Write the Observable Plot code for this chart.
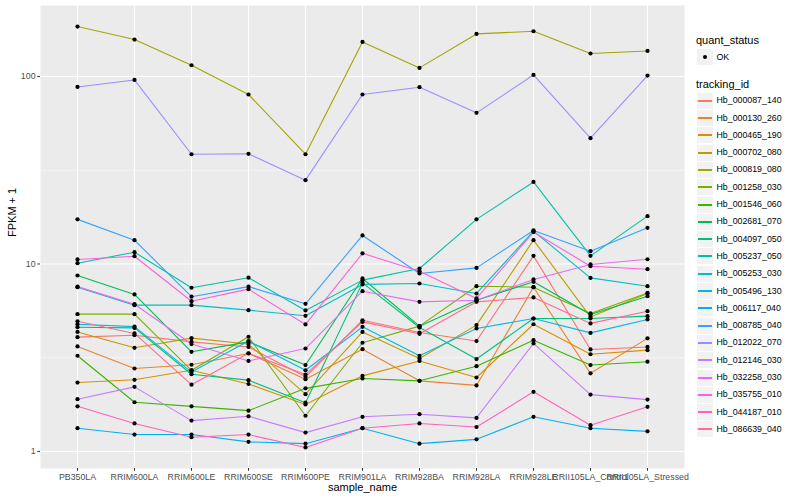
<!DOCTYPE html>
<html><head><meta charset="utf-8">
<script src="https://cdn.jsdelivr.net/npm/d3@7"></script>
<script src="https://cdn.jsdelivr.net/npm/@observablehq/plot@0.6"></script>
<style>
body{margin:0;background:#fff;font-family:"Liberation Sans",Arial,sans-serif;}
#wrap{display:flex;width:800px;height:500px;}
#chart{width:692px;height:500px;}
#legend{position:relative;width:108px;height:500px;}
.lt{position:absolute;font-size:11px;color:#000;white-space:nowrap;line-height:1;}
.li{position:absolute;font-size:8.8px;color:#000;white-space:nowrap;line-height:1;}
.key{position:absolute;width:16px;height:16px;background:#F2F2F2;border:1px solid #fff;}
.seg{position:absolute;left:1px;width:14px;top:7px;height:2px;}
</style></head><body><div id="wrap"><div id="chart"></div><div id="legend"></div></div>
<script>
const samples = ["PB350LA","RRIM600LA","RRIM600LE","RRIM600SE","RRIM600PE","RRIM901LA","RRIM928BA","RRIM928LA","RRIM928LE","RRII105LA_Control","RRII105LA_Stressed"];
const trackingIds = ["Hb_000087_140","Hb_000130_260","Hb_000465_190","Hb_000702_080","Hb_000819_080","Hb_001258_030","Hb_001546_060","Hb_002681_070","Hb_004097_050","Hb_005237_050","Hb_005253_030","Hb_005496_130","Hb_006117_040","Hb_008785_040","Hb_012022_070","Hb_012146_030","Hb_032258_030","Hb_035755_010","Hb_044187_010","Hb_086639_040"];
const colors = ["#F8766D","#EA8331","#D89000","#C09B00","#A3A500","#7CAE00","#39B600","#00BB4E","#00BF7D","#00C1A3","#00BFC4","#00BADE","#00B0F6","#35A2FF","#9590FF","#C77CFF","#E76BF3","#FA62DB","#FF62BC","#FF6C91"];
const quantStatus = ["OK"];

// FPKM + 1 per sample, in sample order
const hb_000087_140 = [4.07, 4.17, 3.84, 3.61, 2.50, 5.01, 4.31, 3.88, 11.05, 3.50, 3.61];
const hb_000130_260 = [3.63, 2.77, 2.90, 3.33, 2.43, 3.51, 2.38, 2.25, 7.52, 2.61, 4.01];
const hb_000465_190 = [2.33, 2.41, 2.71, 2.29, 1.78, 2.53, 3.04, 2.48, 4.77, 3.30, 3.47];
const hb_000702_080 = [4.34, 3.57, 4.02, 3.74, 2.02, 4.34, 3.13, 4.72, 13.4, 5.22, 6.96];
const hb_000819_080 = [184.8, 157.5, 114.9, 80.2, 38.5, 152.9, 111.2, 168.8, 174.4, 132.7, 136.9];
const hb_001258_030 = [5.40, 5.40, 2.71, 4.09, 1.55, 3.80, 4.66, 7.61, 7.52, 5.45, 7.01];
const hb_001546_060 = [3.24, 1.83, 1.74, 1.65, 2.17, 2.45, 2.38, 2.85, 3.92, 2.89, 3.01];
const hb_002681_070 = [8.68, 6.88, 3.40, 3.84, 2.89, 8.37, 4.66, 6.41, 8.03, 5.38, 6.73];
const hb_004097_050 = [4.60, 4.56, 2.58, 2.40, 1.82, 7.93, 4.58, 3.11, 5.12, 5.12, 5.27];
const hb_005237_050 = [10.1, 11.56, 7.47, 8.45, 5.65, 8.20, 9.46, 17.3, 27.4, 11.05, 18.0];
const hb_005253_030 = [7.52, 6.03, 6.03, 5.67, 5.29, 7.78, 7.87, 6.96, 14.96, 8.43, 7.61];
const hb_005496_130 = [4.77, 4.63, 2.65, 3.88, 2.71, 4.62, 3.24, 4.53, 5.12, 4.29, 5.06];
const hb_006117_040 = [1.33, 1.23, 1.23, 1.125, 1.10, 1.33, 1.10, 1.16, 1.53, 1.33, 1.28];
const hb_008785_040 = [17.3, 13.4, 6.69, 7.57, 6.13, 14.2, 8.90, 9.53, 15.1, 11.7, 15.6];
const hb_012022_070 = [88.0, 95.9, 38.5, 38.7, 28.0, 80.2, 87.7, 64.0, 102, 46.9, 101.2];
const hb_012146_030 = [1.90, 2.21, 1.46, 1.54, 1.26, 1.53, 1.58, 1.51, 3.77, 2.01, 1.89];
const hb_032258_030 = [7.57, 6.10, 3.74, 3.04, 3.54, 7.16, 6.28, 6.41, 8.27, 9.94, 10.6];
const hb_035755_010 = [10.57, 11.0, 6.33, 7.34, 4.76, 11.4, 9.15, 6.55, 14.8, 9.73, 9.38];
const hb_044187_010 = [1.74, 1.41, 1.19, 1.23, 1.05, 1.33, 1.41, 1.35, 2.08, 1.38, 1.73];
const hb_086639_040 = [4.95, 4.26, 2.27, 3.34, 2.57, 4.91, 4.24, 6.28, 6.63, 4.82, 5.60];

const seriesValues = [hb_000087_140, hb_000130_260, hb_000465_190, hb_000702_080, hb_000819_080, hb_001258_030, hb_001546_060, hb_002681_070, hb_004097_050, hb_005237_050, hb_005253_030, hb_005496_130, hb_006117_040, hb_008785_040, hb_012022_070, hb_012146_030, hb_032258_030, hb_035755_010, hb_044187_010, hb_086639_040];

const data = [];
trackingIds.forEach((id, i) => seriesValues[i].forEach((v, j) => data.push({id, sample: samples[j], value: v, status: "OK"})));

// ggplot-like 5% expansion in log space
const [lo, hi] = d3.extent(data, d => Math.log10(d.value));
const pad = (hi - lo) * 0.05;
const yDomain = [10 ** (lo - pad), 10 ** (hi + pad)];

const font = "Liberation Sans, Arial, sans-serif";
const chart = Plot.plot({
  width: 692, height: 500,
  marginLeft: 40, marginRight: 8, marginTop: 5, marginBottom: 32,
  style: {fontFamily: font, background: "transparent", overflow: "visible"},
  x: {type: "point", domain: samples, padding: 0.6},
  y: {type: "log", domain: yDomain},
  color: {domain: trackingIds, range: colors},
  marks: [
    Plot.frame({fill: "#EBEBEB", stroke: null}),
    Plot.gridY([Math.sqrt(10), Math.sqrt(1000)], {stroke: "#fff", strokeOpacity: 1, strokeWidth: 0.55}),
    Plot.gridY([1, 10, 100], {stroke: "#fff", strokeOpacity: 1, strokeWidth: 1.1}),
    Plot.gridX(samples, {stroke: "#fff", strokeOpacity: 1, strokeWidth: 1.1}),
    Plot.line(data, {x: "sample", y: "value", z: "id", stroke: "id", strokeWidth: 1.1}),
    Plot.dot(data, {x: "sample", y: "value", r: 2.1, fill: "#000", stroke: null}),
    Plot.axisY({ticks: [1, 10, 100], tickFormat: d => String(d), tickSize: 2.75, tickPadding: 2.2, stroke: "#333", fill: "#4D4D4D", fontSize: 8.8, label: null}),
    Plot.axisX({tickSize: 2.75, tickPadding: 2.2, stroke: "#333", fill: "#4D4D4D", fontSize: 8.8, label: null}),
    Plot.text(["sample_name"], {frameAnchor: "bottom", dy: 22, fontSize: 11, fill: "#000"}),
    Plot.text(["FPKM + 1"], {frameAnchor: "left", dx: -28, rotate: -90, fontSize: 11, fill: "#000"})
  ]
});
document.getElementById("chart").appendChild(chart);

// legend (HTML, to the right of the SVG)
const lg = document.getElementById("legend");
function add(cls, text, left, top) {
  const el = document.createElement("div");
  el.className = cls; if (text) el.textContent = text;
  el.style.left = left + "px"; el.style.top = top + "px";
  lg.appendChild(el); return el;
}
add("lt", "quant_status", 4, 35);
const k0 = add("key", null, 4, 48);
const dot = document.createElement("div");
Object.assign(dot.style, {position: "absolute", left: "5.7px", top: "5.7px", width: "4.6px", height: "4.6px", borderRadius: "50%", background: "#000"});
k0.appendChild(dot);
quantStatus.forEach(s => add("li", s, 24.5, 52.5));
add("lt", "tracking_id", 4, 79);
trackingIds.forEach((id, i) => {
  const cy = 100.7 + i * 17.3;
  const k = add("key", null, 4, Math.round(cy - 9));
  const seg = document.createElement("div");
  seg.className = "seg";
  seg.style.backgroundColor = colors[i];
  k.appendChild(seg);
  add("li", id, 24.5, Math.round(cy - 4.5));
});
</script>
</body></html>
